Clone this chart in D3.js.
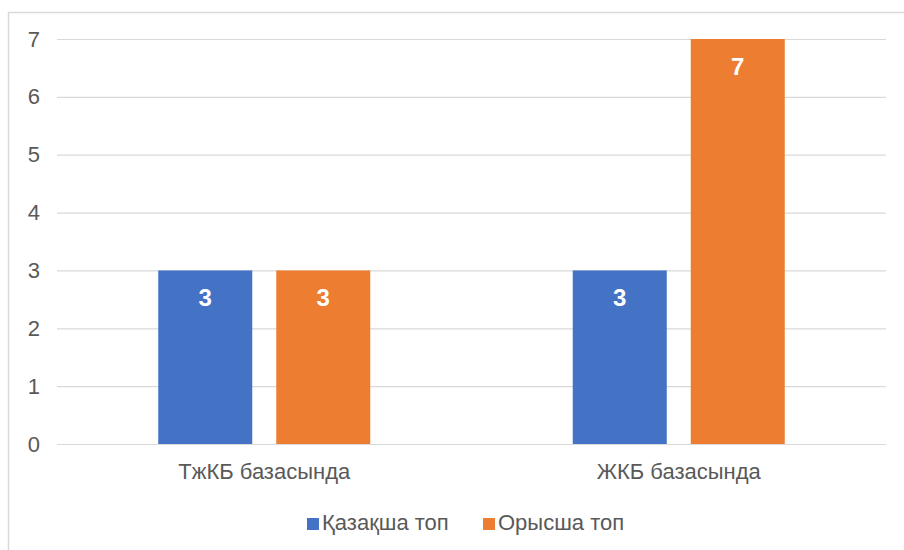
<!DOCTYPE html>
<html>
<head>
<meta charset="utf-8">
<script src="https://cdn.jsdelivr.net/npm/d3@7"></script>
<style>
  body { margin: 0; background: #fff; }
  text { font-family: "Liberation Sans", Arial, sans-serif; }
</style>
</head>
<body>
<div id="chart"></div>
<script>
const width = 904;
const height = 550;

const categories = ['ТжКБ базасында', 'ЖКБ базасында'];
const seriesNames = ['Қазақша топ', 'Орысша топ'];
const kazakh = [3, 3];
const russian = [3, 7];
const yTicks = [0, 1, 2, 3, 4, 5, 6, 7];
const colors = ['#4472C4', '#ED7D31'];

const plot = { left: 57, right: 886, top: 39, bottom: 444 };

const svg = d3.select('#chart')
              .append('svg')
              .attr('width', width)
              .attr('height', height);

// chart border (only left and top edges fall inside the picture)
svg.append('rect')
   .attr('x', 8.5)
   .attr('y', 12.5)
   .attr('width', 920)
   .attr('height', 560)
   .attr('fill', 'none')
   .attr('stroke', '#d9d9d9')
   .attr('stroke-width', 1.5);

const y = d3.scaleLinear()
            .domain([0, 7])
            .range([plot.bottom, plot.top]);

const x0 = d3.scaleBand()
             .domain(categories)
             .range([plot.left, plot.right])
             .padding(0);

const x1 = d3.scaleBand()
             .domain(seriesNames)
             .range([0, x0.bandwidth()])
             .paddingInner(0.2034)
             .paddingOuter(0.858);

// gridlines
svg.append('g')
   .selectAll('line')
   .data(yTicks)
   .enter()
   .append('line')
   .attr('x1', plot.left)
   .attr('x2', plot.right)
   .attr('y1', (d) => y(d) + 0.5)
   .attr('y2', (d) => y(d) + 0.5)
   .attr('stroke', '#d9d9d9')
   .attr('stroke-width', 1.2);

// y axis labels
const yAxis = svg.append('g')
   .attr('transform', 'translate(' + (plot.left - 17) + ',0)')
   .call(d3.axisLeft(y).tickValues(yTicks).tickFormat(d3.format('d')).tickSize(0).tickPadding(0));
yAxis.select('.domain').remove();
yAxis.selectAll('text')
     .attr('font-size', 22)
     .attr('fill', '#595959');

// x axis labels
const xAxis = svg.append('g')
   .attr('transform', 'translate(0,' + plot.bottom + ')')
   .call(d3.axisBottom(x0).tickSize(0).tickPadding(19));
xAxis.select('.domain').remove();
xAxis.selectAll('text')
     .attr('font-size', 22)
     .attr('fill', '#595959');

const rows = categories.map((c, i) => ({
  category: c,
  values: [
    { name: seriesNames[0], value: kazakh[i], color: colors[0] },
    { name: seriesNames[1], value: russian[i], color: colors[1] }
  ]
}));

const groups = svg.selectAll('.group')
                  .data(rows)
                  .enter()
                  .append('g')
                  .attr('class', 'group')
                  .attr('transform', (d) => 'translate(' + x0(d.category) + ',0)');

groups.selectAll('rect')
      .data((d) => d.values)
      .enter()
      .append('rect')
      .attr('x', (d) => x1(d.name))
      .attr('y', (d) => y(d.value))
      .attr('width', x1.bandwidth())
      .attr('height', (d) => y(0) - y(d.value))
      .attr('fill', (d) => d.color);

groups.selectAll('.label')
      .data((d) => d.values)
      .enter()
      .append('text')
      .attr('class', 'label')
      .attr('x', (d) => x1(d.name) + x1.bandwidth() / 2)
      .attr('y', (d) => y(d.value) + 36)
      .attr('text-anchor', 'middle')
      .attr('font-size', 24)
      .attr('font-weight', 'bold')
      .attr('fill', '#ffffff')
      .text((d) => d.value);

// legend
const legendX = [307, 483];
const legend = svg.append('g')
                  .selectAll('g')
                  .data(seriesNames)
                  .enter()
                  .append('g')
                  .attr('transform', (d, i) => 'translate(' + legendX[i] + ',518)');

legend.append('rect')
      .attr('width', 12)
      .attr('height', 12)
      .attr('fill', (d, i) => colors[i]);

legend.append('text')
      .attr('x', 15)
      .attr('y', 12)
      .attr('font-size', 22)
      .attr('fill', '#595959')
      .text((d) => d);
</script>
</body>
</html>
